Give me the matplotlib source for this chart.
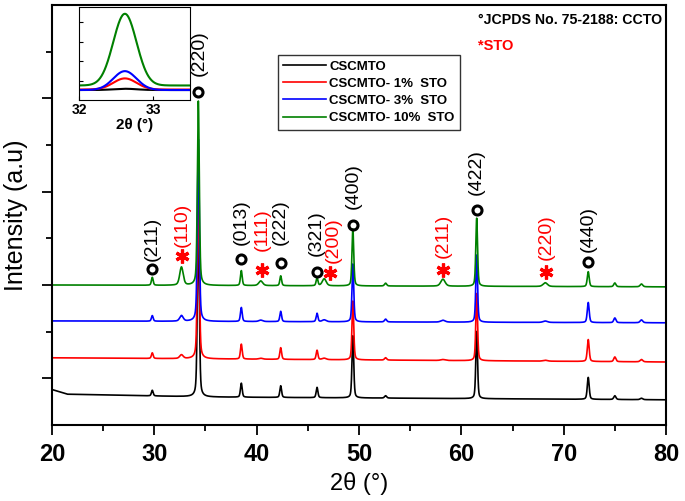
import numpy as np
import matplotlib.pyplot as plt
from matplotlib.ticker import FixedLocator, MultipleLocator

plt.rcParams['font.family'] = ['Liberation Sans', 'DejaVu Sans']

# samples, bottom to top
samples = ['CSCMTO', 'CSCMTO- 1%  STO', 'CSCMTO- 3%  STO', 'CSCMTO- 10%  STO']
colors = ['black', 'red', 'blue', 'green']

# peak table (2theta, FWHM)
peak_pos = [29.8, 32.65, 34.3, 38.5, 40.4, 42.35, 45.9, 46.6, 49.4, 52.6,
            58.2, 61.5, 68.2, 72.4, 75.0, 77.6]
peak_fwhm = [0.2, 0.4, 0.22, 0.2, 0.45, 0.2, 0.2, 0.45, 0.2, 0.25,
             0.5, 0.2, 0.5, 0.22, 0.25, 0.3]
# peak heights above baseline (a.u.), one row per sample
heights_black = [0.12, 0.00, 3.90, 0.30, 0.00, 0.25, 0.22, 0.00, 1.33, 0.05,
                 0.00, 1.44, 0.00, 0.47, 0.08, 0.03]
heights_red = [0.12, 0.08, 3.90, 0.32, 0.02, 0.25, 0.20, 0.03, 1.26, 0.05,
               0.02, 1.44, 0.02, 0.47, 0.10, 0.05]
heights_blue = [0.12, 0.12, 3.90, 0.30, 0.03, 0.22, 0.18, 0.04, 1.24, 0.06,
                0.04, 1.44, 0.03, 0.43, 0.10, 0.06]
heights_green = [0.17, 0.39, 3.95, 0.32, 0.10, 0.21, 0.17, 0.15, 1.22, 0.06,
                 0.15, 1.46, 0.08, 0.32, 0.08, 0.06]
heights = [heights_black, heights_red, heights_blue, heights_green]

# baseline levels (2theta, offset) read at a few points
base_x = [[20, 21.5, 35, 80], [20, 80], [20, 80], [20, 80]]
base_y = [[0.76, 0.66, 0.60, 0.54], [1.44, 1.35], [2.23, 2.19], [3.00, 2.96]]

# inset: STO (110) peak, same order as samples
inset_center = 32.62
inset_fwhm = 0.37
inset_base = [10.3, 10.8, 10.3, 15.0]
inset_amp = [1.3, 11.5, 19.5, 74.0]

# reflection markers: (2theta marker, marker y, 2theta label, label y, label)
ccto = [(29.8, 3.34, 29.8, 3.52, '(211)'), (34.3, 7.14, 34.4, 7.48, '(220)'),
        (38.5, 3.56, 38.5, 3.86, '(013)'), (42.35, 3.47, 42.35, 3.86, '(222)'),
        (45.9, 3.28, 45.8, 3.62, '(321)'), (49.4, 4.29, 49.4, 4.62, '(400)'),
        (61.5, 4.60, 61.5, 4.93, '(422)'), (72.4, 3.49, 72.4, 3.71, '(440)')]
sto = [(32.7, 3.62, 32.7, 3.81, '(110)'), (40.5, 3.33, 40.5, 3.73, '(111)'),
       (47.2, 3.26, 47.5, 3.47, '(200)'), (58.2, 3.32, 58.2, 3.58, '(211)'),
       (68.3, 3.28, 68.3, 3.54, '(220)')]

tt = np.linspace(20, 80, 6001)


def pattern(h, bx, by):
    y = np.interp(tt, bx, by)
    for p, w, a in zip(peak_pos, peak_fwhm, h):
        g = np.exp(-4 * np.log(2) * ((tt - p) / w) ** 2)
        lo = 1 / (1 + 4 * ((tt - p) / w) ** 2)
        y = y + a * (0.6 * g + 0.4 * lo)
    return y


fig = plt.figure(figsize=(6.85, 5.01), dpi=100)
ax = fig.add_axes([52 / 685, 76 / 501, 614 / 685, 420 / 501])

for i in range(4):
    ax.plot(tt, pattern(heights[i], base_x[i], base_y[i]), color=colors[i],
            lw=1.2, label=samples[i])

for x, ym, xl, yl, lab in ccto:
    ax.plot(x, ym, 'o', ms=6.5, mfc='none', mec='black', mew=2.2)
    ax.text(xl, yl, lab, rotation=90, ha='center', va='bottom', fontsize=14,
            color='black')
for x, ym, xl, yl, lab in sto:
    ax.plot(x, ym, marker=(6, 2, 0), ms=10, color='red', mew=2.3)
    ax.text(xl, yl, lab, rotation=90, ha='center', va='bottom', fontsize=14,
            color='red')

ax.set_xlim(20, 80)
ax.set_ylim(0, 9)
ax.xaxis.set_major_locator(MultipleLocator(10))
ax.xaxis.set_minor_locator(MultipleLocator(5))
ax.yaxis.set_major_locator(FixedLocator([1, 3, 5, 7]))
ax.yaxis.set_minor_locator(FixedLocator([2, 4, 6, 8]))
ax.tick_params(which='both', direction='out', width=1.3, top=False, right=False)
ax.tick_params(which='major', length=7)
ax.tick_params(which='minor', length=4)
ax.tick_params(axis='y', labelleft=False)
ax.tick_params(axis='x', pad=6)
for lab in ax.get_xticklabels():
    lab.set_fontsize(17)
    lab.set_fontweight('bold')
for s in ax.spines.values():
    s.set_linewidth(1.5)

ax.set_xlabel('2θ (°)', fontsize=17, labelpad=4)
ax.set_ylabel('Intensity (a.u)', fontsize=18, labelpad=10)

leg = ax.legend(loc='upper left', bbox_to_anchor=(278 / 685, 1 - 55 / 501),
                bbox_transform=fig.transFigure, frameon=True, fancybox=False,
                edgecolor='black', handlelength=3.2, handletextpad=0.3,
                borderpad=0.4, labelspacing=0.38, borderaxespad=0,
                prop={'weight': 'bold', 'size': 9.5})
leg.get_frame().set_linewidth(1.0)

fig.text(478 / 685, 1 - 24 / 501, '°JCPDS No. 75-2188: CCTO', fontsize=10.2,
         fontweight='bold', color='black', va='baseline')
fig.text(478 / 685, 1 - 50 / 501, '*STO', fontsize=10.5, fontweight='bold',
         color='red', va='baseline')

# inset
ins = fig.add_axes([79 / 685, 401 / 501, 111 / 685, 93 / 501])
xi = np.linspace(32, 33.5, 301)
for i in range(4):
    yi = inset_base[i] + inset_amp[i] * np.exp(
        -4 * np.log(2) * ((xi - inset_center) / inset_fwhm) ** 2)
    ins.plot(xi, yi, color=colors[i], lw=1.5)
ins.set_xlim(32, 33.5)
ins.set_ylim(0, 96)
ins.set_xticks([32, 33])
ins.set_yticks([20, 40, 60, 80])
ins.tick_params(direction='in', length=3, width=0.8, labelsize=10, pad=2)
ins.tick_params(axis='y', labelleft=False)
for lab in ins.get_xticklabels():
    lab.set_fontweight('bold')
ins.set_xlabel('2θ (°)', fontsize=11, fontweight='bold', labelpad=1)

fig.savefig('out.png', dpi=100)
